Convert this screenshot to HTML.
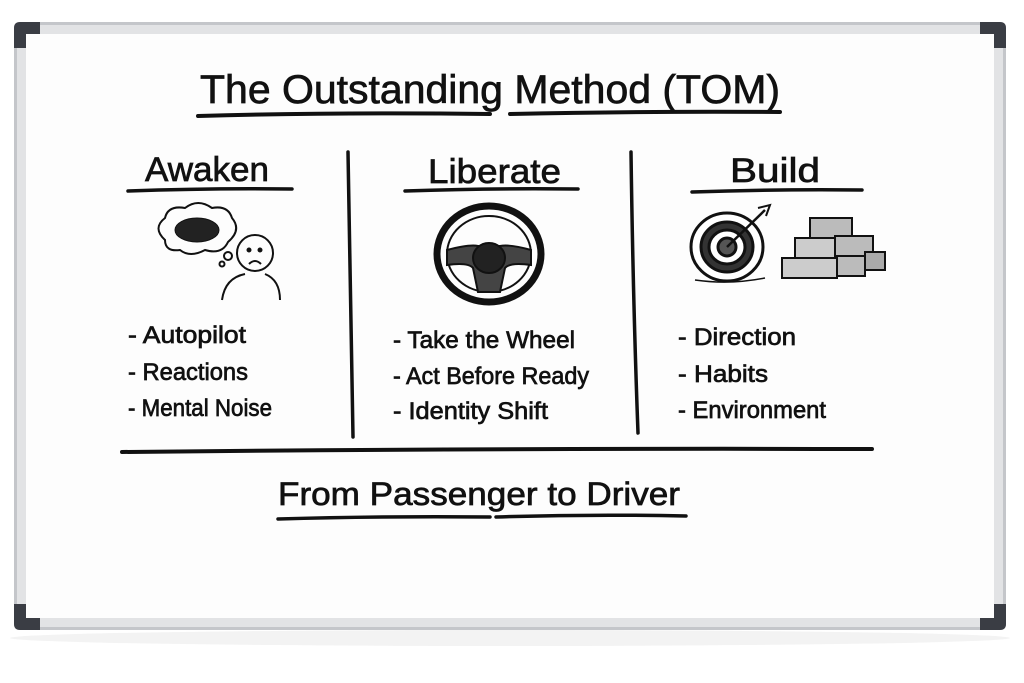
<!DOCTYPE html>
<html><head><meta charset="utf-8"><style>
html,body{margin:0;padding:0;background:#fff;}
svg{display:block}
text{font-family:"Liberation Sans","DejaVu Sans",sans-serif;fill:#111;stroke:#111;stroke-width:0.7;}
</style></head><body>
<svg width="1024" height="683" viewBox="0 0 1024 683" xmlns="http://www.w3.org/2000/svg">
<rect width="1024" height="683" fill="#fff"/>
<ellipse cx="510" cy="638" rx="500" ry="8" fill="#f3f3f3"/>
<rect x="14" y="22" width="992" height="608" rx="6" fill="#c4c6ca"/>
<rect x="17" y="25" width="986" height="602" rx="4" fill="#e2e3e5"/>
<rect x="26" y="34" width="968" height="584" fill="#fdfdfd"/>
<path d="M14 48 V28 Q14 22 20 22 H40 V34 H26 V48 Z" fill="#3a3d44"/>
<path d="M1006 48 V28 Q1006 22 1000 22 H980 V34 H994 V48 Z" fill="#3a3d44"/>
<path d="M14 604 V624 Q14 630 20 630 H40 V618 H26 V604 Z" fill="#3a3d44"/>
<path d="M1006 604 V624 Q1006 630 1000 630 H980 V618 H994 V604 Z" fill="#3a3d44"/>
<g stroke="#111" stroke-linecap="round" fill="none">
<path d="M198 116 Q340 112 490 114" stroke-width="4"/>
<path d="M510 114 Q650 111 780 112" stroke-width="4"/>
<path d="M128 191 Q210 188 292 189" stroke-width="3.5"/>
<path d="M405 191 Q490 188 578 189" stroke-width="3.5"/>
<path d="M692 192 Q780 189 862 190" stroke-width="3.5"/>
<path d="M348 152 Q351 300 353 437" stroke-width="3.5"/>
<path d="M631 152 Q633 300 638 433" stroke-width="3.5"/>
<path d="M122 452 Q500 448 872 449" stroke-width="4"/>
<path d="M278 519 Q380 516 490 517" stroke-width="3.5"/>
<path d="M496 517 Q590 514 686 516" stroke-width="3.5"/>
</g>
<text x="200" y="103" font-size="40" textLength="580" lengthAdjust="spacingAndGlyphs">The Outstanding Method (TOM)</text>
<text x="145" y="181" font-size="34" textLength="124" lengthAdjust="spacingAndGlyphs">Awaken</text>
<text x="428" y="183" font-size="34" textLength="133" lengthAdjust="spacingAndGlyphs">Liberate</text>
<text x="730" y="182" font-size="34" textLength="90" lengthAdjust="spacingAndGlyphs">Build</text>
<text x="278" y="505" font-size="32" textLength="402" lengthAdjust="spacingAndGlyphs">From Passenger to Driver</text>
<g font-size="24">
<text x="128" y="343" textLength="118" lengthAdjust="spacingAndGlyphs">- Autopilot</text>
<text x="128" y="380" textLength="120" lengthAdjust="spacingAndGlyphs">- Reactions</text>
<text x="128" y="416" textLength="144" lengthAdjust="spacingAndGlyphs">- Mental Noise</text>
<text x="393" y="348" textLength="182" lengthAdjust="spacingAndGlyphs">- Take the Wheel</text>
<text x="393" y="384" textLength="196" lengthAdjust="spacingAndGlyphs">- Act Before Ready</text>
<text x="393" y="419" textLength="155" lengthAdjust="spacingAndGlyphs">- Identity Shift</text>
<text x="678" y="345" textLength="118" lengthAdjust="spacingAndGlyphs">- Direction</text>
<text x="678" y="382" textLength="90" lengthAdjust="spacingAndGlyphs">- Habits</text>
<text x="678" y="418" textLength="148" lengthAdjust="spacingAndGlyphs">- Environment</text>
</g>
<g stroke="#111" stroke-width="2" fill="none">
<path d="M165 240 Q152 228 165 218 Q168 205 185 208 Q198 198 212 208 Q228 205 232 218 Q242 230 228 242 Q222 255 205 250 Q190 258 180 250 Q165 252 165 240 Z"/>
<ellipse cx="197" cy="230" rx="22" ry="12" fill="#222" stroke-width="1"/>
<circle cx="228" cy="256" r="4"/><circle cx="222" cy="264" r="2.5"/>
<circle cx="255" cy="253" r="18"/>
<circle cx="249" cy="250" r="1.5" fill="#111"/><circle cx="260" cy="250" r="1.5" fill="#111"/>
<path d="M249 264 Q255 258 261 264"/>
<path d="M222 300 Q225 278 245 274 M265 274 Q280 280 280 300"/>
</g>
<g stroke="#111" fill="none">
<ellipse cx="489" cy="254" rx="52" ry="48" stroke-width="7"/>
<ellipse cx="489" cy="254" rx="42" ry="38" stroke-width="2"/>
<path d="M447 250 Q470 244 478 246 L500 246 Q510 244 531 250 L531 265 Q510 262 505 268 L500 292 L478 292 L473 268 Q468 262 447 265 Z" fill="#444" stroke-width="2"/>
<ellipse cx="489" cy="258" rx="16" ry="15" fill="#222" stroke-width="2"/>
</g>
<g stroke="#111" fill="none" stroke-width="3">
<ellipse cx="727" cy="247" rx="36" ry="34" fill="#fff"/>
<ellipse cx="727" cy="247" rx="26" ry="25" fill="#333"/>
<ellipse cx="727" cy="247" rx="18" ry="17" fill="#fff"/>
<ellipse cx="727" cy="247" rx="9" ry="9" fill="#555"/>
<path d="M727 247 L765 210" stroke-width="2.5"/>
<path d="M758 208 L770 205 L766 216" stroke-width="2"/>
<path d="M695 280 Q730 285 765 278" stroke-width="1.5"/>
</g>
<g stroke="#111" stroke-width="2" fill="#fff">
<rect x="810" y="218" width="42" height="20" fill="#bbb"/>
<rect x="795" y="238" width="40" height="20" fill="#ccc"/><rect x="835" y="236" width="38" height="20" fill="#bbb"/>
<rect x="782" y="258" width="55" height="20" fill="#ccc"/><rect x="837" y="256" width="28" height="20" fill="#bbb"/><rect x="865" y="252" width="20" height="18" fill="#aaa"/>
</g>
</svg>
</body></html>
